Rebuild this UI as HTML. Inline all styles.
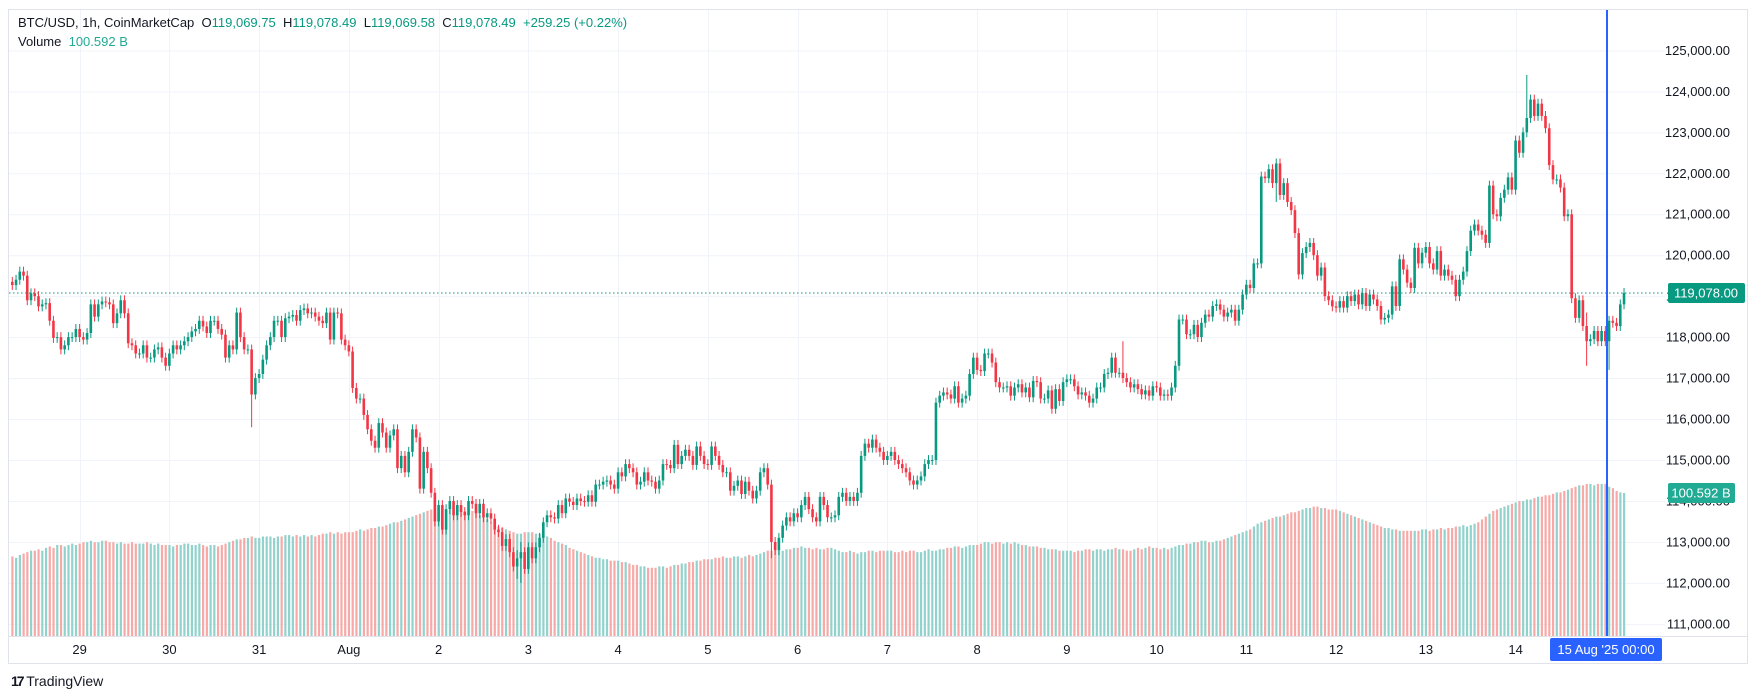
<!DOCTYPE html>
<html><head><meta charset="utf-8">
<style>
html,body{margin:0;padding:0;background:#fff;width:1756px;height:700px;overflow:hidden;font-family:"Liberation Sans",sans-serif;}
#wrap{position:relative;width:1756px;height:700px;}
svg{position:absolute;left:0;top:0;}
.hdr{position:absolute;left:18px;font-size:13px;color:#131722;white-space:nowrap;}
.g{color:#089981;}
</style></head><body>
<div id="wrap">
<svg id="chart" width="1756" height="700"></svg>
<div class="hdr" style="top:15px">BTC/USD, 1h, CoinMarketCap&nbsp; O<span class="g">119,069.75</span>&nbsp; H<span class="g">119,078.49</span>&nbsp; L<span class="g">119,069.58</span>&nbsp; C<span class="g">119,078.49</span>&nbsp; <span class="g">+259.25 (+0.22%)</span></div>
<div class="hdr" style="top:34px">Volume&nbsp; <span class="g" style="color:#22ab94">100.592 B</span></div>
<div style="position:absolute;left:11px;top:673px;font-size:14px;color:#131722;"><b style="letter-spacing:-2px">17</b> TradingView</div>
</div>
<script>
// closes (thousands USD), hourly from Jul 28 06:00 to Aug 15 05:00
const closes = [
119.27,119.4,119.6,119.5,118.9,119.07,119.0,118.75,118.8,118.83,118.4,117.98,118.0,117.7,117.8,118.0,118.0,118.2,
118.0,117.94,118.1,118.8,118.5,118.8,118.87,118.85,118.8,118.34,118.58,118.9,118.58,117.85,117.8,117.6,117.6,117.8,117.5,117.5,117.7,117.75,117.5,117.3,
117.6,117.8,117.7,117.8,117.9,118.0,118.14,118.2,118.4,118.26,118.1,118.4,118.4,118.2,118.06,117.5,117.8,117.7,118.6,118.0,117.7,117.7,116.6,117.0,
117.1,117.45,117.8,118.0,118.4,118.4,118.0,118.46,118.5,118.54,118.4,118.66,118.7,118.58,118.6,118.5,118.4,118.34,118.6,117.94,118.6,118.58,117.94,117.8,
117.65,116.76,116.5,116.5,116.1,115.75,115.47,115.3,115.9,115.67,115.3,115.6,115.75,114.8,115.1,114.7,115.2,115.75,115.55,114.3,115.2,114.8,114.2,113.5,
113.9,113.3,113.8,114.0,113.65,113.9,113.73,113.65,114.0,113.93,113.7,113.93,113.6,113.7,113.57,113.3,113.24,112.9,113.07,112.75,112.4,112.6,112.75,112.34,
112.87,112.6,112.87,113.1,113.48,113.65,113.6,113.57,113.9,113.7,114.06,113.98,113.9,114.06,114.0,113.98,114.14,113.98,114.4,114.4,114.47,114.5,114.4,114.3,
114.7,114.6,114.9,114.8,114.7,114.4,114.47,114.7,114.5,114.47,114.3,114.5,114.9,114.88,114.8,115.37,114.9,115.1,115.25,115.1,114.88,115.33,115.1,114.9,
114.88,115.33,115.1,114.88,114.7,114.7,114.25,114.37,114.5,114.17,114.47,114.25,114.06,114.25,114.7,114.8,114.4,113.0,112.8,113.1,113.4,113.6,113.5,113.7,
113.6,113.9,114.1,113.8,113.6,113.5,114.1,113.9,113.6,113.6,113.65,114.1,114.2,114.0,114.1,114.0,114.2,115.1,115.4,115.3,115.5,115.3,115.2,115.0,
115.1,115.2,115.0,114.9,114.8,114.7,114.5,114.4,114.5,114.6,114.9,115.0,115.0,116.4,116.57,116.65,116.6,116.5,116.8,116.4,116.5,116.57,117.1,117.5,
117.2,117.17,117.6,117.6,117.38,116.9,116.77,116.77,116.8,116.57,116.77,116.85,116.65,116.77,116.53,116.93,116.9,116.5,116.5,116.7,116.25,116.73,116.44,116.9,
116.97,116.97,116.8,116.6,116.65,116.57,116.4,116.5,116.77,116.77,117.1,117.13,117.5,117.13,117.13,117.0,116.9,116.77,116.85,116.73,116.6,116.7,116.57,116.8,
116.77,116.57,116.6,116.57,116.77,117.3,118.43,118.43,118.07,118.07,118.3,118.0,118.35,118.55,118.5,118.76,118.8,118.67,118.5,118.6,118.67,118.4,118.67,119.04,
119.28,119.2,119.8,119.8,121.92,121.88,122.1,121.76,122.24,121.47,121.76,121.3,121.1,120.54,119.53,120.05,120.2,120.3,120.0,119.5,119.7,119.0,118.9,118.75,
118.72,118.88,118.72,119.0,118.88,119.04,118.8,119.08,118.76,119.04,118.92,118.76,118.43,118.47,118.55,119.24,118.76,119.9,119.65,119.33,119.2,120.18,119.8,120.06,
120.2,119.8,119.65,120.1,119.5,119.65,119.5,119.4,119.0,119.4,119.6,120.1,120.6,120.75,120.6,120.5,120.3,121.7,121.0,120.95,121.4,121.6,121.9,121.6,
122.8,122.5,123.0,123.35,123.8,123.4,123.7,123.4,123.1,122.2,121.85,121.85,121.65,120.95,121.0,118.95,118.47,118.9,118.27,117.9,117.95,118.15,117.9,118.15,
117.9,118.4,118.35,118.27,118.8,119.078
];
// volume (billions USD) per candle
const volumes = [
56,55,57,58,59,60,60,61,60,62,63,62,64,64,63,64,65,64,
65,66,66,67,66,66,67,67,66,66,65,66,65,65,66,65,65,65,66,65,64,65,64,64,
64,63,64,64,65,65,64,64,65,64,63,64,64,63,64,65,66,67,68,68,69,69,70,69,
69,70,70,70,69,70,70,71,71,70,71,70,71,70,71,70,71,72,72,73,72,73,72,73,
73,73,74,75,74,75,76,76,77,77,78,79,80,80,81,82,83,84,85,86,87,88,89,89,
89,90,89,89,90,89,88,88,89,88,87,85,84,82,80,78,77,76,75,74,73,72,72,73,
73,73,72,72,71,70,69,67,66,65,64,62,61,60,59,58,57,56,55,55,54,54,53,53,
53,52,52,51,50,50,49,49,48,48,48,49,49,48,49,50,50,51,51,52,52,53,53,54,
54,54,55,55,56,55,55,56,56,55,56,57,56,57,58,59,60,60,61,61,60,61,61,62,
62,63,62,62,61,62,61,61,62,62,61,60,59,59,60,59,58,59,59,60,60,59,60,60,
60,60,59,59,60,59,60,60,59,59,60,61,60,60,61,61,62,62,63,63,62,63,64,64,
64,65,66,66,65,66,66,65,66,65,66,65,64,64,63,63,63,62,62,61,61,61,60,60,
60,60,59,60,60,61,61,60,61,61,60,61,61,62,61,61,60,60,61,62,61,62,63,62,
62,61,62,61,62,63,64,64,65,65,66,66,67,67,66,66,67,67,68,69,70,71,72,73,
74,75,77,79,80,81,82,83,84,84,85,86,87,87,88,89,90,90,91,91,90,90,89,89,
89,88,87,86,85,84,83,82,81,80,79,78,77,76,76,75,75,74,74,74,74,74,74,75,
75,74,75,75,76,75,76,76,77,77,78,77,78,79,80,82,84,86,88,89,90,91,92,93,
94,95,95,96,96,97,98,98,99,99,100,101,101,102,103,104,105,106,106,107,107,106,107,107,
107,105,104,102,101,100.592
];
// notable wick extremes: [candle index, high, low]
const spikes = [[64,117.2,115.8],[135,112.8,112.1],[136,113.0,112.0],[203,114.5,112.6],[338,122.35,121.3],[405,124.4,123.3],[421,118.6,117.3],[427,118.2,117.2],[297,117.9,117.1]];
const priceTicks = [111,112,113,114,115,116,117,118,119,120,121,122,123,124,125];
const dayLabels = ["29","30","31","Aug","2","3","4","5","6","7","8","9","10","11","12","13","14"];
const firstOpen = 119.35;

const NS="http://www.w3.org/2000/svg";
const svg=document.getElementById('chart');
const X0=12.3, STEP=3.7395, PL=9, PR=1665, PT=10, PB=636;
const xAt=i=>X0+i*STEP;
const yAt=p=>50.4+(125-p)*40.96;
const vScale=143/100.592;
const yVol=v=>PB-v*vScale;
function mk(tag,attrs,parent){const e=document.createElementNS(NS,tag);for(const k in attrs)e.setAttribute(k,attrs[k]);(parent||svg).appendChild(e);return e;}

// frame
const frame=mk('rect',{x:8.5,y:9.5,width:1739,height:654,fill:'none',stroke:'#e0e3eb'});


// grid
const grid=mk('g',{});


priceTicks.forEach(p=>{mk('line',{x1:PL,x2:PR,y1:yAt(p)+.5,y2:yAt(p)+.5,stroke:'#f0f3fa'},grid);});
dayLabels.forEach((d,k)=>{const x=Math.round(xAt(18+24*k))+.5;mk('line',{x1:x,x2:x,y1:PT,y2:PB,stroke:'#f0f3fa'},grid);});
mk('line',{x1:PL,x2:1748,y1:PB+.5,y2:PB+.5,stroke:'#e0e3eb'},svg);

// volume
const vg=mk('g',{});


const ups=[];
closes.forEach((c,i)=>{const o=i?closes[i-1]:firstOpen;ups.push(c>=o);});
volumes.forEach((v,i)=>{
  const b=mk('rect',{x:xAt(i)-1,y:yVol(v),width:2.2,height:PB-yVol(v),fill:ups[i]?'#92d2cc':'#f7a9a7'},vg);
  
  
});

// candles
const cg=mk('g',{});


const spikeMap={};spikes.forEach(s=>spikeMap[s[0]]=s);
closes.forEach((c,i)=>{
  const o=i?closes[i-1]:firstOpen;
  let hi=Math.max(o,c)+0.12, lo=Math.min(o,c)-0.12;
  if(spikeMap[i]){hi=Math.max(hi,spikeMap[i][1]);lo=Math.min(lo,spikeMap[i][2]);}
  const col=c>=o?'#089981':'#f23645';
  const x=xAt(i);
  const g=mk('g',{},cg);
  
  
  mk('line',{x1:x,x2:x,y1:yAt(hi),y2:yAt(lo),stroke:col,'stroke-width':1},g);
  const yt=yAt(Math.max(o,c)),yb=yAt(Math.min(o,c));
  mk('rect',{x:x-1.3,y:yt,width:2.6,height:Math.max(1,yb-yt),fill:col},g);
});

// last price line
const lp=closes[closes.length-1];
const pl=mk('line',{x1:PL,x2:PR,y1:yAt(lp),y2:yAt(lp),stroke:'#089981','stroke-dasharray':'1.5 2.5'});



// crosshair vertical
const cx=mk('line',{x1:1607,x2:1607,y1:PT,y2:PB,stroke:'#2962ff','stroke-width':2});



// price axis labels
const ag=mk('g',{});


priceTicks.forEach(p=>{
  const t=mk('text',{x:1730,y:yAt(p)+4.5,'text-anchor':'end','font-size':13,fill:'#131722','font-family':'Liberation Sans, sans-serif'},ag);
  t.textContent=(p*1000).toLocaleString('en-US')+'.00';
  
  
});
// time axis labels
const tg=mk('g',{});


dayLabels.forEach((d,k)=>{
  const t=mk('text',{x:xAt(18+24*k),y:654,'text-anchor':'middle','font-size':13,fill:'#131722','font-family':'Liberation Sans, sans-serif'},tg);
  t.textContent=d;
  
  
});
// price badge
const pb=mk('g',{});


mk('rect',{x:1668,y:yAt(lp)-10,width:77,height:20,fill:'#089981',rx:2},pb);
const pt=mk('text',{x:1706,y:yAt(lp)+4.5,'text-anchor':'middle','font-size':13,fill:'#fff','font-family':'Liberation Sans, sans-serif'},pb);
pt.textContent=(lp*1000).toLocaleString('en-US',{minimumFractionDigits:2,maximumFractionDigits:2});
// volume badge
const lv=volumes[volumes.length-1];
const vb=mk('g',{});


mk('rect',{x:1668,y:yVol(lv)-10,width:67,height:20,fill:'#22ab94',rx:2},vb);
const vt=mk('text',{x:1701,y:yVol(lv)+4.5,'text-anchor':'middle','font-size':13,fill:'#fff','font-family':'Liberation Sans, sans-serif'},vb);
vt.textContent=lv.toFixed(3)+' B';
// time badge
const tb=mk('g',{});


mk('rect',{x:1550,y:638,width:112,height:23,fill:'#2962ff',rx:2},tb);
const tt=mk('text',{x:1606,y:654,'text-anchor':'middle','font-size':13,fill:'#fff','font-family':'Liberation Sans, sans-serif','xml:space':'preserve'},tb);
tt.textContent="15 Aug '25    00:00";
</script>
</body></html>
